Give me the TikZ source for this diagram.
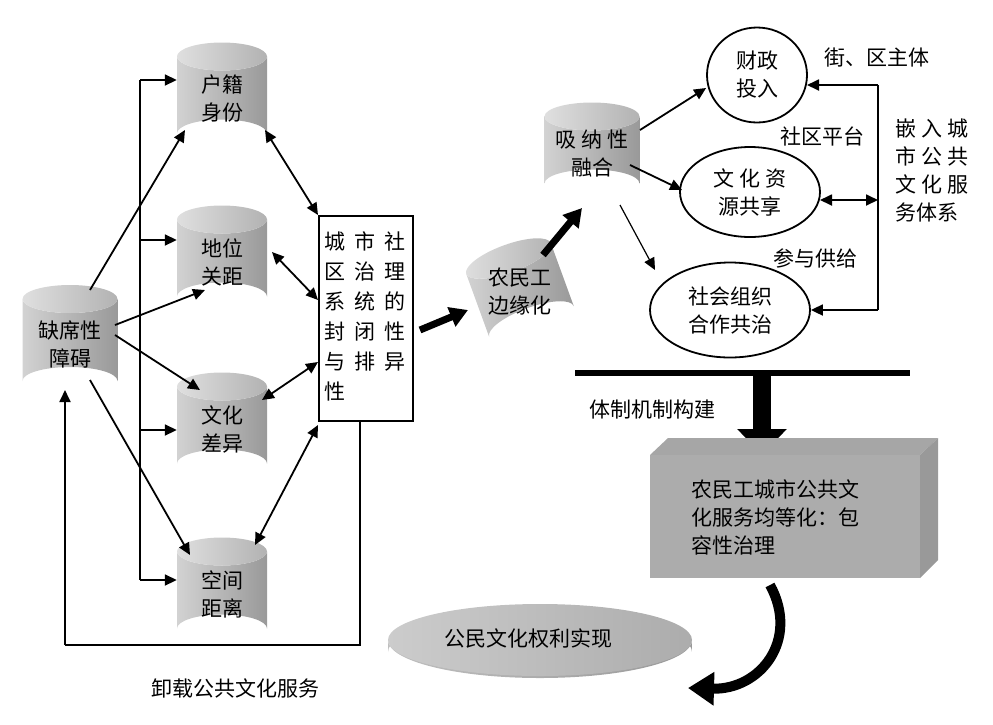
\documentclass[tikz,border=0pt]{standalone}
\usepackage{fontspec}
\setmainfont{Noto Sans CJK SC}
\usetikzlibrary{arrows.meta,shapes.geometric}
\begin{document}
\begin{tikzpicture}[x=1pt,y=-1pt,
  txt/.style={font=\fontsize{21}{28}\selectfont,align=center},
  ar/.style={-{Triangle[length=12pt,width=11pt]},line width=1.8pt},
  dar/.style={{Triangle[length=12pt,width=11pt]}-{Triangle[length=12pt,width=11pt]},line width=1.8pt},
  ell/.style={ellipse,draw,line width=1.8pt,fill=white,txt,inner sep=0pt},
  fat/.style={-{Triangle[length=18pt,width=20pt]},line width=7pt}]
\useasboundingbox (0,0) rectangle (993,724);
\newcommand{\mycyl}[6]{% name x y w h text
  \shade[left color=gray!35,right color=gray!80] (#2-#4/2,#3-#5/2+14) -- (#2-#4/2,#3+#5/2-14) arc[start angle=180,end angle=360,x radius=#4/2,y radius=14] -- (#2+#4/2,#3-#5/2+14) arc[start angle=0,end angle=180,x radius=#4/2,y radius=14];
  \shade[left color=gray!25,right color=gray!60] (#2,#3-#5/2+14) ellipse[x radius=#4/2,y radius=14];
  \node[txt,minimum width=#4,minimum height=#5,inner sep=0pt] (#1) at (#2,#3+4) {#6};}
% left cylinders
\mycyl{q}{70}{340}{95}{110}{缺席性\\障碍}
\mycyl{h}{222}{95}{90}{105}{户籍\\身份}
\mycyl{d}{222}{258}{90}{105}{地位\\关距}
\mycyl{w}{222}{425}{90}{105}{文化\\差异}
\mycyl{k}{222}{590}{90}{105}{空间\\距离}
% rectangle
\node[draw,line width=1.8pt,minimum width=94,minimum height=205,anchor=north west,inner sep=0pt] (r) at (318,215) {};
\node[txt,font=\fontsize{21}{30}\selectfont,anchor=north west] at (321,228) {城\\区\\系\\封\\与\\性};
\node[txt,font=\fontsize{21}{30}\selectfont,anchor=north west] at (351,228) {市\\治\\统\\闭\\排};
\node[txt,font=\fontsize{21}{30}\selectfont,anchor=north west] at (381,228) {社\\理\\的\\性\\异};
% spine
\coordinate (s1) at (140,80);\coordinate (s2) at (140,580);
\draw[line width=1.8pt] (s1) -- (s2);
\draw[ar] (s1) -- (h.west|-s1);
\draw[ar] (140,240) -- (d.west|-0,240);
\draw[ar] (140,430) -- (w.west|-0,430);
\draw[ar] (s2) -- (k.west|-s2);
% diagonal from q
\draw[ar] (90,290) -- (185,130);
\draw[ar] (115,325) -- (205,290);
\draw[ar] (115,335) -- (200,390);
\draw[ar] (90,380) -- (190,555);
% to rect
\draw[dar] (265,130) -- (318,215);
\draw[dar] (272,252) -- (318,300);
\draw[dar] (262,400) -- (318,362);
\draw[dar] (255,545) -- (318,425);
% bottom loop
\coordinate (b1) at (65,645);\coordinate (b2) at (360,645);
\draw[line width=1.8pt] (r.south-|b2) -- (b2) -- (b1);
\draw[ar] (b1) -- (65,390);
\node[txt] at (235,688) {卸载公共文化服务};
% middle
\begin{scope}[rotate around={20:(520,290)}]
\mycyl{n}{520}{290}{90}{95}{}
\end{scope}
\node[txt] at (520,292) {农民工\\边缘化};
\draw[fat] (420,330) -- (468,310);
\mycyl{x}{592}{150}{95}{95}{吸 纳 性\\融合}
\draw[fat] (543,255) -- (582,208);
% ellipses
\node[ell,minimum width=100,minimum height=95] (e1) at (757,75) {财政\\投入};
\node[ell,minimum width=140,minimum height=90] (e2) at (750,192) {文 化 资\\源共享};
\node[ell,minimum width=160,minimum height=95] (e3) at (730,310) {社会组织\\合作共治};
\draw[ar] (640,130) -- (e1.west|-0,88);
\draw[ar] (630,165) -- (682,190);
\draw[ar,line width=1.2pt] (620,205) -- (655,270);
\coordinate (v1) at (878,85);\coordinate (v2) at (878,310);
\draw[line width=1.8pt] (v1) -- (v2);
\draw[ar] (v1) -- (807,85);
\draw[dar] (820,200) -- (878,200);
\draw[ar] (v2) -- (e3.east|-v2);
\node[txt] at (877,58) {街、区主体};
\node[txt] at (822,136) {社区平台};
\node[txt] at (815,258) {参与供给};
\node[txt,align=left] at (932,170) {嵌 入 城\\市 公 共\\文 化 服\\务体系};
% bar and box
\draw[line width=6pt] (575,373) -- (910,373);
\coordinate (ta) at (762,376);\coordinate (tb) at (762,455);
\draw[-{Triangle[length=26pt,width=48pt]},line width=18pt] (ta) -- (tb);
\node[txt] at (652,410) {体制机制构建};
\fill[gray!70] (650,455) -- (668,438) -- (938,438) -- (920,455) -- cycle;
\fill[gray!80] (920,455) -- (938,438) -- (938,560) -- (920,578) -- cycle;
\node[fill=gray!65,minimum width=270,minimum height=123,anchor=north west,inner sep=0pt] (bx) at (650,455) {};
\node[txt,align=left,anchor=north west] at (688,476) {农民工城市公共文\\化服务均等化：包\\容性治理};
% disc
\shade[left color=gray!50,right color=gray!80] (388,652) arc[start angle=180,end angle=360,x radius=152,y radius=38] -- (692,640) arc[start angle=0,end angle=180,x radius=152,y radius=38] -- cycle;
\shade[left color=gray!40,right color=gray!65] (540,640) ellipse[x radius=152,y radius=36];
\node[txt] (disc) at (528,638) {公民文化权利实现};
% curved arrow
\coordinate (c1) at (770,585);\coordinate (c2) at (688,688);
\draw[-{Triangle[length=26pt,width=32pt]},line width=10pt] (c1) .. controls (800,640) and (760,690) .. (c2);
\end{tikzpicture}
\end{document}
